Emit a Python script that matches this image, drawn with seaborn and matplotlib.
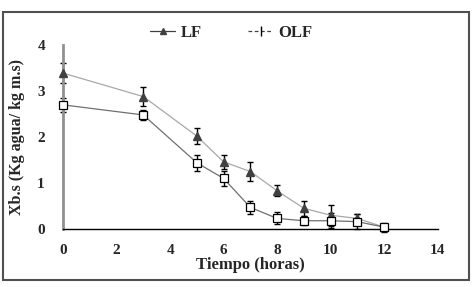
import numpy as np
import pandas as pd
import seaborn as sns
import matplotlib.pyplot as plt
from matplotlib.lines import Line2D
from matplotlib.patches import Rectangle

tiempo = [0, 3, 5, 6, 7, 8, 9, 10, 11, 12]
lf = [3.39, 2.88, 2.02, 1.46, 1.25, 0.83, 0.45, 0.30, 0.23, 0.04]
lf_err = [0.22, 0.20, 0.17, 0.15, 0.20, 0.12, 0.17, 0.23, 0.10, 0.08]
olf = [2.70, 2.48, 1.44, 1.10, 0.47, 0.23, 0.18, 0.18, 0.16, 0.04]
olf_err = [0.15, 0.10, 0.17, 0.17, 0.15, 0.13, 0.10, 0.16, 0.16, 0.10]

df = pd.DataFrame({"Tiempo": tiempo, "LF": lf, "OLF": olf})

sns.set_style("white")
plt.rcParams["font.family"] = ["Liberation Serif", "DejaVu Serif"]
plt.rcParams["font.weight"] = "bold"

fig = plt.figure(figsize=(4.72, 2.87), dpi=100)
ax = fig.add_axes([0.1335, 0.202, 0.794, 0.641])

# lines
sns.lineplot(x="Tiempo", y="LF", data=df, ax=ax, color="#a8a8a8", lw=0.9, zorder=1)
sns.lineplot(x="Tiempo", y="OLF", data=df, ax=ax, color="#707070", lw=0.9, zorder=1)

# error bars and markers
for y, e in [(lf, lf_err), (olf, olf_err)]:
    eb = ax.errorbar(tiempo, y, yerr=e, fmt="none", ecolor="black", elinewidth=1.0,
                     capsize=2.5, capthick=1.0, zorder=2)
    for art in eb.lines[1] + eb.lines[2]:
        art.set_clip_on(False)
ax.plot(tiempo, lf, ls="none", marker="^", ms=6, mfc="#404040", mec="#404040",
        zorder=3, clip_on=False)
ax.plot(tiempo, olf, ls="none", marker="s", ms=6, mfc="white", mec="black", mew=0.9,
        zorder=3, clip_on=False)

ax.set_xlim(0, 14)
ax.set_ylim(0, 4)
ax.set_xticks(range(0, 15, 2))
ax.set_yticks(range(0, 5))
for s in ["top", "right"]:
    ax.spines[s].set_visible(False)
ax.spines["left"].set_color("#909090")
ax.spines["left"].set_linewidth(2)
ax.spines["bottom"].set_color("black")
ax.spines["bottom"].set_linewidth(1)
ax.tick_params(axis="x", direction="out", length=4, width=1, labelsize=11, pad=7)
ax.tick_params(axis="y", direction="out", length=4, width=1, labelsize=11, pad=9)
for lab in ax.get_xticklabels() + ax.get_yticklabels():
    lab.set_fontweight("bold")

ax.set_xlabel("Tiempo (horas)", fontsize=12, fontweight="bold", labelpad=0)
ax.set_ylabel("Xb.s (Kg agua/ kg m.s)", fontsize=11.5, fontweight="bold", labelpad=9)

handles = [
    Line2D([0], [0], color="#404040", lw=0.9, marker="^", ms=5, mfc="#404040"),
    Line2D([0], [0], color="#404040", lw=0.9, ls=(0, (3, 2)), marker="|", ms=7, mec="black"),
]
fig.legend(handles, ["LF", "OLF"], loc="center", bbox_to_anchor=(0.49, 0.885), ncol=2,
           frameon=False, handlelength=1.5, handletextpad=0.3, columnspacing=2.8,
           prop={"weight": "bold", "size": 12})

fig.patches.append(Rectangle((0.006, 0.024), 0.987, 0.934, transform=fig.transFigure,
                             fill=False, edgecolor="#505050", lw=1.5))

plt.savefig("out.png", dpi=100)
plt.close()
